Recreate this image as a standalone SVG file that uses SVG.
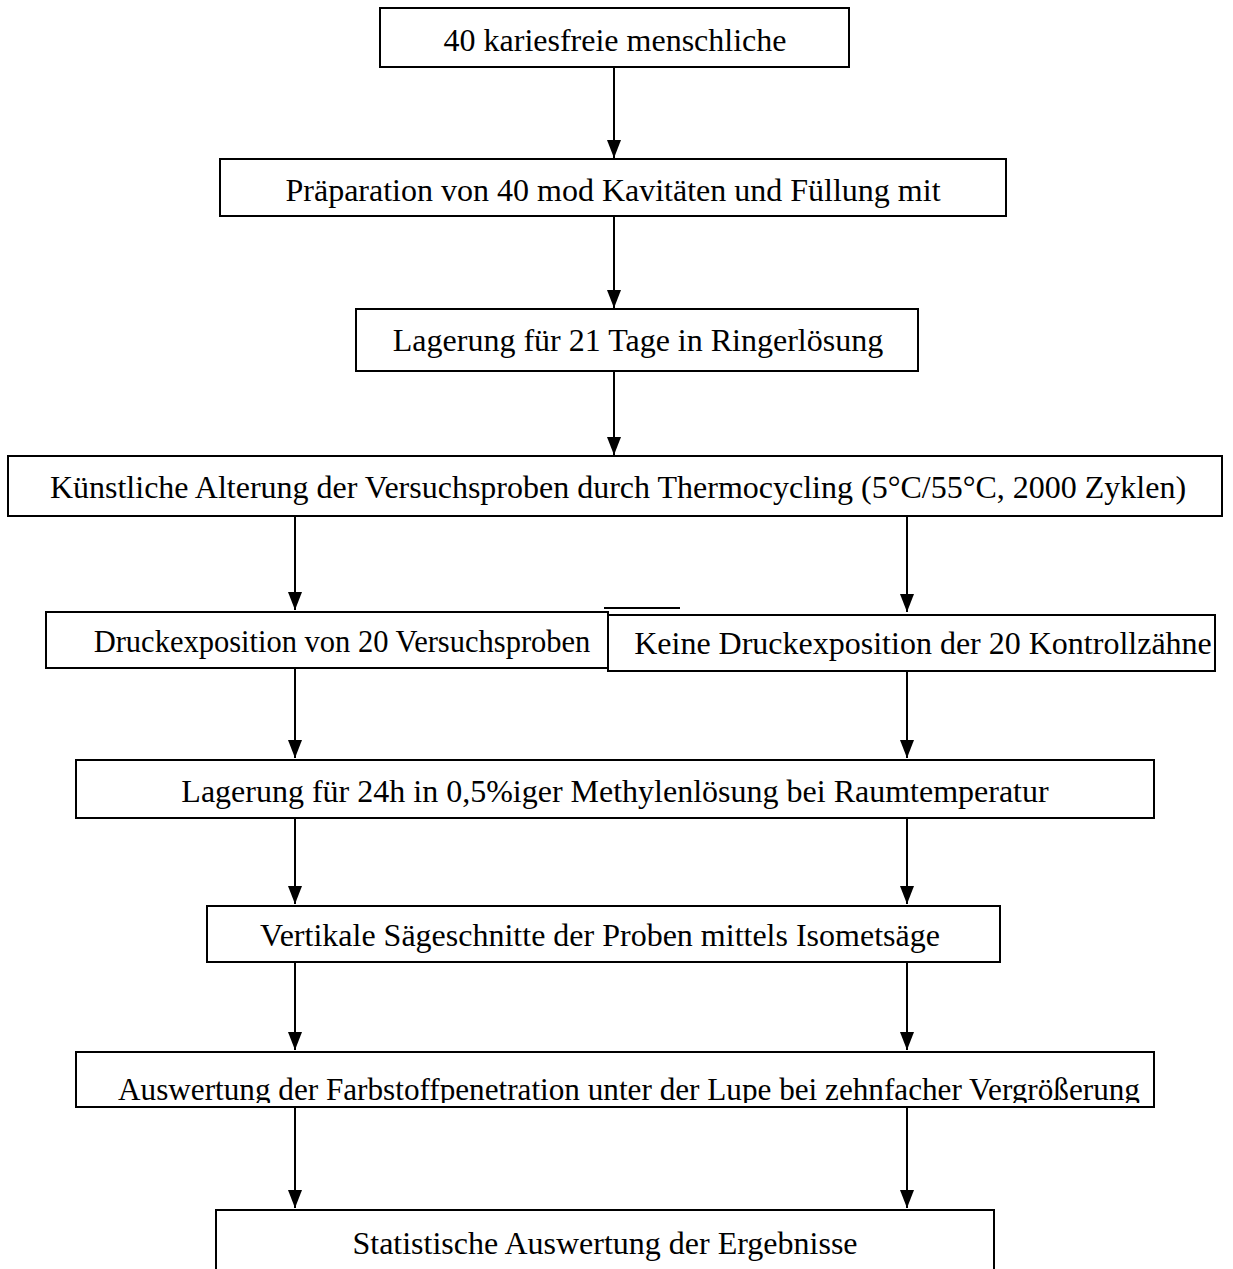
<svg xmlns="http://www.w3.org/2000/svg" width="1233" height="1269" viewBox="0 0 1233 1269">
<style>
.box{fill:#fff;stroke:#000;stroke-width:2}
.t{font-family:"Liberation Serif","Times New Roman",serif;font-size:32px;fill:#000;text-anchor:middle}
.c{stroke:#000;stroke-width:2;fill:none}
</style>
<defs>
<marker id="ah" viewBox="0 0 18 14" refX="18" refY="7" markerWidth="18" markerHeight="14" markerUnits="userSpaceOnUse" orient="auto">
<path d="M0,0 L18,7 L0,14 Z" fill="#000"/>
</marker>
<clipPath id="clip8"><rect x="76" y="1052" width="1078" height="51"/></clipPath>
</defs>
<rect width="1233" height="1269" fill="#fff"/>
<g id="connectors">
<line class="c" x1="614" y1="67" x2="614" y2="158" marker-end="url(#ah)"/>
<line class="c" x1="614" y1="216" x2="614" y2="308" marker-end="url(#ah)"/>
<line class="c" x1="614" y1="371" x2="614" y2="455" marker-end="url(#ah)"/>
<line class="c" x1="295" y1="516" x2="295" y2="610" marker-end="url(#ah)"/>
<line class="c" x1="907" y1="516" x2="907" y2="612" marker-end="url(#ah)"/>
<line class="c" x1="295" y1="668" x2="295" y2="758" marker-end="url(#ah)"/>
<line class="c" x1="907" y1="671" x2="907" y2="758" marker-end="url(#ah)"/>
<line class="c" x1="295" y1="818" x2="295" y2="904" marker-end="url(#ah)"/>
<line class="c" x1="907" y1="818" x2="907" y2="904" marker-end="url(#ah)"/>
<line class="c" x1="295" y1="962" x2="295" y2="1050" marker-end="url(#ah)"/>
<line class="c" x1="907" y1="962" x2="907" y2="1050" marker-end="url(#ah)"/>
<line class="c" x1="295" y1="1107" x2="295" y2="1208" marker-end="url(#ah)"/>
<line class="c" x1="907" y1="1107" x2="907" y2="1208" marker-end="url(#ah)"/>
<line class="c" x1="604" y1="608" x2="680" y2="608"/>
</g>
<g id="n1"><rect class="box" x="380" y="8" width="469" height="59"/><text class="t" x="615" y="51">40 kariesfreie menschliche</text></g>
<g id="n2"><rect class="box" x="220" y="159" width="786" height="57"/><text class="t" x="613" y="201">Präparation von 40 mod Kavitäten und Füllung mit</text></g>
<g id="n3"><rect class="box" x="356" y="309" width="562" height="62"/><text class="t" x="638" y="351">Lagerung für 21 Tage in Ringerlösung</text></g>
<g id="n4"><rect class="box" x="8" y="456" width="1214" height="60"/><text class="t" x="618" y="498">Künstliche Alterung der Versuchsproben durch Thermocycling (5°C/55°C, 2000 Zyklen)</text></g>
<g id="n5a"><rect class="box" x="46" y="612" width="562" height="56"/><text class="t" x="342" y="652" style="font-size:30.5px">Druckexposition von 20 Versuchsproben</text></g>
<g id="n5b"><rect class="box" x="608" y="615" width="607" height="56"/><text class="t" x="923" y="654">Keine Druckexposition der 20 Kontrollzähne</text></g>
<g id="n6"><rect class="box" x="76" y="760" width="1078" height="58"/><text class="t" x="615" y="802">Lagerung für 24h in 0,5%iger Methylenlösung bei Raumtemperatur</text></g>
<g id="n7"><rect class="box" x="207" y="906" width="793" height="56"/><text class="t" x="600" y="946">Vertikale Sägeschnitte der Proben mittels Isometsäge</text></g>
<g id="n8"><rect class="box" x="76" y="1052" width="1078" height="55"/><text class="t" x="629" y="1100" style="font-size:31.2px" clip-path="url(#clip8)">Auswertung der Farbstoffpenetration unter der Lupe bei zehnfacher Vergrößerung</text></g>
<g id="n9"><rect class="box" x="216" y="1210" width="778" height="80"/><text class="t" x="605" y="1254">Statistische Auswertung der Ergebnisse</text></g>
</svg>
